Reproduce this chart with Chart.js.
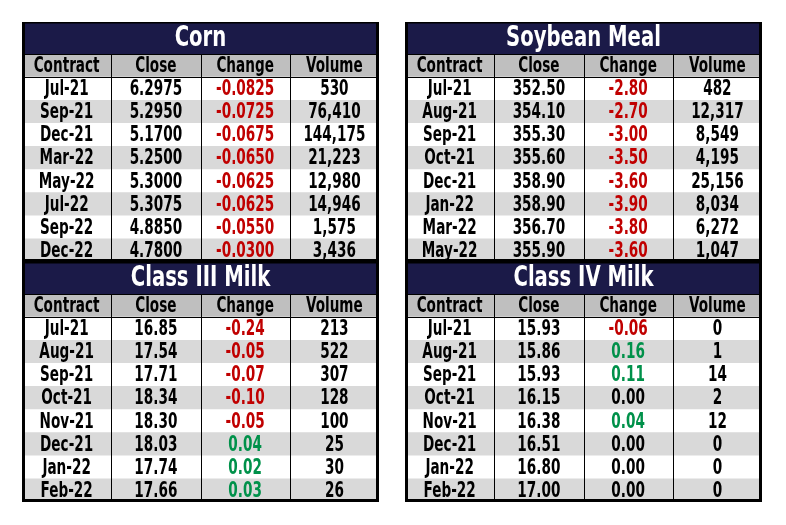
<!DOCTYPE html>
<html lang="en">
<head>
    <meta charset="UTF-8">
    <title>Futures Settlements</title>
    <style>
        body {
            margin: 0;
            background-color: #fff;
        }
        .panel {
            position: absolute;
            width: 357px;
            height: 240px;
        }
    </style>
    <script src="https://cdn.jsdelivr.net/npm/chart.js"></script>
</head>
<body>
    <div class="panel" style="left:22px; top:22px;"><canvas id="corn"></canvas></div>
    <div class="panel" style="left:405px; top:22px;"><canvas id="soy"></canvas></div>
    <div class="panel" style="left:22px; top:262px;"><canvas id="milk3"></canvas></div>
    <div class="panel" style="left:405px; top:262px;"><canvas id="milk4"></canvas></div>

    <script>
        const columnHeaders = ['Contract', 'Close', 'Change', 'Volume'];

        // Corn
        const cornContracts = ['Jul-21', 'Sep-21', 'Dec-21', 'Mar-22', 'May-22', 'Jul-22', 'Sep-22', 'Dec-22'];
        const cornClose = [6.2975, 5.2950, 5.1700, 5.2500, 5.3000, 5.3075, 4.8850, 4.7800];
        const cornChange = [-0.0825, -0.0725, -0.0675, -0.0650, -0.0625, -0.0625, -0.0550, -0.0300];
        const cornVolume = [530, 76410, 144175, 21223, 12980, 14946, 1575, 3436];

        // Soybean Meal
        const soyContracts = ['Jul-21', 'Aug-21', 'Sep-21', 'Oct-21', 'Dec-21', 'Jan-22', 'Mar-22', 'May-22'];
        const soyClose = [352.50, 354.10, 355.30, 355.60, 358.90, 358.90, 356.70, 355.90];
        const soyChange = [-2.80, -2.70, -3.00, -3.50, -3.60, -3.90, -3.80, -3.60];
        const soyVolume = [482, 12317, 8549, 4195, 25156, 8034, 6272, 1047];

        // Class III Milk
        const milk3Contracts = ['Jul-21', 'Aug-21', 'Sep-21', 'Oct-21', 'Nov-21', 'Dec-21', 'Jan-22', 'Feb-22'];
        const milk3Close = [16.85, 17.54, 17.71, 18.34, 18.30, 18.03, 17.74, 17.66];
        const milk3Change = [-0.24, -0.05, -0.07, -0.10, -0.05, 0.04, 0.02, 0.03];
        const milk3Volume = [213, 522, 307, 128, 100, 25, 30, 26];

        // Class IV Milk
        const milk4Contracts = ['Jul-21', 'Aug-21', 'Sep-21', 'Oct-21', 'Nov-21', 'Dec-21', 'Jan-22', 'Feb-22'];
        const milk4Close = [15.93, 15.86, 15.93, 16.15, 16.38, 16.51, 16.80, 17.00];
        const milk4Change = [-0.06, 0.16, 0.11, 0.00, 0.04, 0.00, 0.00, 0.00];
        const milk4Volume = [0, 1, 14, 2, 12, 0, 0, 0];

        const FONT = "'DejaVu Sans Condensed', 'DejaVu Sans', sans-serif";
        const NAVY = '#1b1a48';
        const HEADER_GRAY = '#bfbfbf';
        const ROW_GRAY = '#d9d9d9';
        const RED = '#c00000';
        const GREEN = '#00914a';
        const TITLE_H = 32;

        // narrow text: draw a condensed face squeezed a bit more horizontally
        function narrowText(ctx, text, cx, cy, sx) {
            ctx.save();
            ctx.translate(cx, cy);
            ctx.scale(sx, 1);
            ctx.fillText(text, 0, 0);
            ctx.restore();
        }

        // Draws title band, column lines, borders and cell text on top of the row bars
        const tablePlugin = {
            id: 'table',
            beforeDraw(chart) {
                const ctx = chart.ctx;
                const w = chart.width;
                ctx.save();
                ctx.fillStyle = NAVY;
                ctx.fillRect(0, 0, w, TITLE_H);
                ctx.fillStyle = '#fff';
                ctx.font = 'bold 28px ' + FONT;
                ctx.textAlign = 'center';
                ctx.textBaseline = 'middle';
                narrowText(ctx, chart.options.plugins.table.title, w / 2, TITLE_H / 2 + 1, 0.78);
                ctx.restore();
            },
            afterDatasetsDraw(chart) {
                const ctx = chart.ctx;
                const x = chart.scales.x;
                const y = chart.scales.y;
                const area = chart.chartArea;
                const cells = chart.options.plugins.table.cells;
                ctx.save();

                // column separators
                ctx.strokeStyle = '#000';
                ctx.lineWidth = 1;
                for (let j = 1; j < columnHeaders.length; j++) {
                    const px = Math.round(x.getPixelForValue(j)) + 0.5;
                    ctx.beginPath();
                    ctx.moveTo(px, area.top);
                    ctx.lineTo(px, area.bottom);
                    ctx.stroke();
                }
                // header top and bottom lines
                const hb = Math.round((y.getPixelForValue(0) + y.getPixelForValue(1)) / 2) + 0.5;
                ctx.beginPath();
                ctx.moveTo(area.left, area.top + 0.5);
                ctx.lineTo(area.right, area.top + 0.5);
                ctx.moveTo(area.left, hb);
                ctx.lineTo(area.right, hb);
                ctx.stroke();

                // text
                ctx.font = 'bold 21px ' + FONT;
                ctx.textAlign = 'center';
                ctx.textBaseline = 'middle';
                cells.forEach((row, i) => {
                    row.forEach((cell, j) => {
                        ctx.fillStyle = cell.color;
                        narrowText(ctx, cell.text, x.getPixelForValue(j + 0.5), y.getPixelForValue(i) + 1, 0.72);
                    });
                });

                // outer border
                ctx.lineWidth = 3;
                ctx.strokeRect(1.5, 0, chart.width - 3, chart.height - 1.5);
                ctx.beginPath();
                ctx.moveTo(0, 0.5);
                ctx.lineTo(chart.width, 0.5);
                ctx.lineWidth = 1;
                ctx.stroke();
                ctx.restore();
            }
        };

        function changeColor(v) {
            if (v < 0) return RED;
            if (v > 0) return GREEN;
            return '#000';
        }

        function buildTable(id, title, contracts, close, change, volume, digits) {
            const rowLabels = ['header'].concat(contracts);
            const cells = [columnHeaders.map(h => ({ text: h, color: '#000' }))];
            contracts.forEach((c, i) => {
                cells.push([
                    { text: c, color: '#000' },
                    { text: close[i].toFixed(digits), color: '#000' },
                    { text: change[i].toFixed(digits), color: changeColor(change[i]) },
                    { text: volume[i].toLocaleString('en-US'), color: '#000' }
                ]);
            });
            const fills = rowLabels.map((r, i) => i === 0 ? HEADER_GRAY : (i % 2 === 1 ? '#ffffff' : ROW_GRAY));

            new Chart(document.getElementById(id), {
                type: 'bar',
                data: {
                    labels: rowLabels,
                    datasets: [{
                        data: rowLabels.map(() => [0, columnHeaders.length]),
                        backgroundColor: fills,
                        borderWidth: 0,
                        barPercentage: 1,
                        categoryPercentage: 1
                    }]
                },
                options: {
                    indexAxis: 'y',
                    responsive: true,
                    maintainAspectRatio: false,
                    animation: false,
                    layout: { padding: { top: TITLE_H, left: 0, right: 0, bottom: 0 } },
                    scales: {
                        x: { type: 'linear', min: 0, max: columnHeaders.length, display: false },
                        y: { type: 'category', display: false }
                    },
                    plugins: {
                        legend: { display: false },
                        tooltip: { enabled: false },
                        table: { title: title, cells: cells }
                    }
                },
                plugins: [tablePlugin]
            });
        }

        buildTable('corn', 'Corn', cornContracts, cornClose, cornChange, cornVolume, 4);
        buildTable('soy', 'Soybean Meal', soyContracts, soyClose, soyChange, soyVolume, 2);
        buildTable('milk3', 'Class III Milk', milk3Contracts, milk3Close, milk3Change, milk3Volume, 2);
        buildTable('milk4', 'Class IV Milk', milk4Contracts, milk4Close, milk4Change, milk4Volume, 2);
    </script>
</body>
</html>
